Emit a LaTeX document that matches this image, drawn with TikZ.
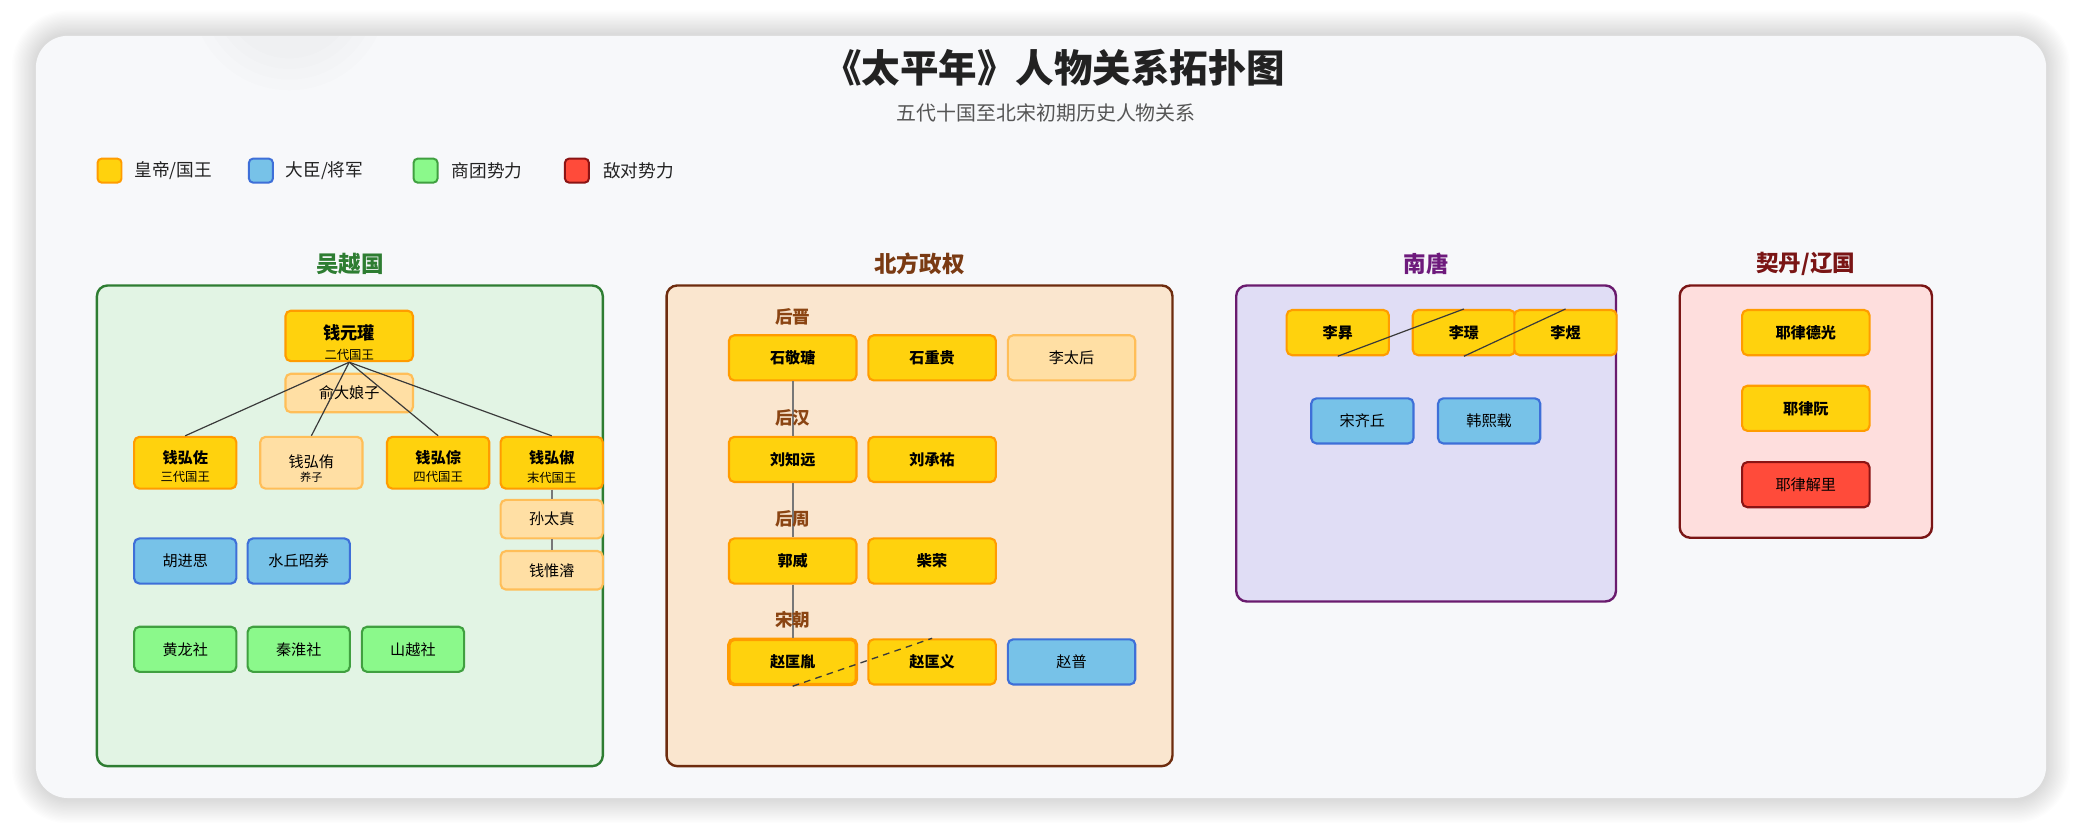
\documentclass[tikz,border=0pt]{standalone}
\usepackage{fontspec}
\setmainfont{Noto Sans CJK SC}
\definecolor{cardF}{HTML}{F7F8FA}
\definecolor{titleC}{HTML}{222222}
\definecolor{subC}{HTML}{555555}
\definecolor{goldF}{HTML}{FFD20D}
\definecolor{goldD}{HTML}{FF9C00}
\definecolor{lightF}{HTML}{FFDFA4}
\definecolor{lightD}{HTML}{FFBE58}
\definecolor{blueF}{HTML}{77C2E8}
\definecolor{blueD}{HTML}{3E6FD8}
\definecolor{greenF}{HTML}{8BF98B}
\definecolor{greenD}{HTML}{40A040}
\definecolor{redF}{HTML}{FF4B3A}
\definecolor{redD}{HTML}{8B1414}
\definecolor{wyF}{HTML}{E2F4E4}
\definecolor{wyD}{HTML}{2E7D32}
\definecolor{nfF}{HTML}{FAE6CF}
\definecolor{nfD}{HTML}{6E2C0E}
\definecolor{nfT}{HTML}{7A3A12}
\definecolor{dyT}{HTML}{8B4513}
\definecolor{ntF}{HTML}{E0DDF5}
\definecolor{ntD}{HTML}{6A1B6E}
\definecolor{ntT}{HTML}{6E1A7C}
\definecolor{qdF}{HTML}{FEDEDD}
\definecolor{qdD}{HTML}{7A1515}
\definecolor{edgeC}{HTML}{3A3A3A}
\definecolor{vlineC}{HTML}{777777}
\begin{document}
\begin{tikzpicture}[x=1pt,y=-1pt,
  person/.style={rounded corners=4pt, line width=1.6pt, inner sep=0pt, text=black,
    font=\fontsize{11.4}{12}\selectfont},
  gold/.style={person, fill=goldF, draw=goldD, font=\bfseries\fontsize{11.4}{12}\selectfont},
  light/.style={person, fill=lightF, draw=lightD},
  blue/.style={person, fill=blueF, draw=blueD},
  green/.style={person, fill=greenF, draw=greenD},
  red/.style={person, fill=redF, draw=redD},
  wsz/.style={minimum width=77pt, minimum height=39pt},
  wsm/.style={minimum width=77pt, minimum height=29pt},
  wmd/.style={minimum width=77pt, minimum height=34pt},
  nsz/.style={minimum width=96pt, minimum height=34pt},
  nmt/.style={inner sep=0pt, font=\bfseries\fontsize{11.4}{12}\selectfont},
  sbt/.style={inner sep=0pt, font=\fontsize{9.3}{10}\selectfont},
  grp/.style={rounded corners=8pt, line width=1.8pt},
  gtitle/.style={font=\bfseries\fontsize{17}{18}\selectfont},
  dyn/.style={font=\bfseries\fontsize{13.2}{14}\selectfont, text=dyT, inner sep=1pt},
  lgbox/.style={rounded corners=3pt, line width=1.5pt, minimum size=18pt, inner sep=0pt},
  lgtxt/.style={font=\fontsize{13.3}{14}\selectfont, text=titleC, anchor=west, inner sep=0pt},
  edge/.style={draw=edgeC, line width=0.9pt},
  vline/.style={draw=vlineC, line width=1.5pt},
  dline/.style={draw=edgeC, line width=1pt, dash pattern=on 5pt off 4pt}
]
\useasboundingbox (0,0) rectangle (1568,628);
\fill[white] (0,0) rectangle (1568,628);
% card shadow (soft, layered)
\foreach \i in {1,...,18}{
  \fill[black, opacity=0.009, rounded corners=24pt+\i pt]
    (27-\i, 26-\i) rectangle (1541+\i, 602+\i);
}
% card
\path[fill=cardF, rounded corners=24pt] (27,27) rectangle (1541,601);
\begin{scope}
  \clip[rounded corners=24pt] (27,27) rectangle (1541,601);
  \foreach \r in {50,58,66,74}{
    \fill[black, opacity=0.006] (218,-6) circle (\r);
  }
\end{scope}

% title
\node[font=\bfseries\fontsize{29}{30}\selectfont, text=titleC] (title) at (794,51) {《太平年》人物关系拓扑图};
\node[font=\fontsize{15}{16}\selectfont, text=subC] (subtitle) at (788,85) {五代十国至北宋初期历史人物关系};

% legend
\node[lgbox, fill=goldF, draw=goldD] (lg1) at (82.5,128.5) {};
\node[lgtxt] (lt1) at (101,128.5) {皇帝/国王};
\node[lgbox, fill=blueF, draw=blueD] (lg2) at (196.5,128.5) {};
\node[lgtxt] (lt2) at (215,128.5) {大臣/将军};
\node[lgbox, fill=greenF, draw=greenD] (lg3) at (320.5,128.5) {};
\node[lgtxt] (lt3) at (340,128.5) {商团势力};
\node[lgbox, fill=redF, draw=redD] (lg4) at (434.5,128.5) {};
\node[lgtxt] (lt4) at (454,128.5) {敌对势力};

% groups
\path[grp, fill=wyF, draw=wyD] (73,215) rectangle (454,577);
\node[gtitle, text=wyD] (gt1) at (263.5,199) {吴越国};
\path[grp, fill=nfF, draw=nfD] (502,215) rectangle (883,577);
\node[gtitle, text=nfT] (gt2) at (692.5,199) {北方政权};
\path[grp, fill=ntF, draw=ntD] (931,215) rectangle (1217,453);
\node[gtitle, text=ntT] (gt3) at (1074,199) {南唐};
\path[grp, fill=qdF, draw=qdD] (1265,215) rectangle (1455,405);
\node[gtitle, text=qdD] (gt4) at (1360,199) {契丹/辽国};

% ---- Wuyue ----
\node[gold, minimum width=96pt, minimum height=38pt] (qyg) at (263,253) {};
\node[nmt, font=\bfseries\fontsize{13}{14}\selectfont] (qygn) at (263,251) {钱元瓘};
\node[sbt] (qygs) at (263,267.5) {二代国王};
\node[light, minimum width=96pt, minimum height=29pt] (yu) at (263,296) {俞大娘子};

\node[gold, wsz] (hz) at (139.5,348.5) {};
\node[nmt] (hzn) at (139.5,344.5) {钱弘佐};
\node[sbt] (hzs) at (139.5,359.5) {三代国王};
\node[light, wsz] (hy) at (234.5,348.5) {};
\node[inner sep=0pt, font=\fontsize{11.4}{12}\selectfont] (hyn) at (234.5,348) {钱弘侑};
\node[inner sep=0pt, font=\fontsize{8.4}{9}\selectfont] (hys) at (234.5,359.5) {养子};
\node[gold, wsz] (hc) at (330,348.5) {};
\node[nmt] (hcn) at (330,344.5) {钱弘倧};
\node[sbt] (hcs) at (330,359.5) {四代国王};
\node[gold, wsz] (hs) at (415.5,348.5) {};
\node[nmt] (hsn) at (415.5,344.5) {钱弘俶};
\node[sbt] (hss) at (415.5,359.5) {末代国王};

\node[light, wsm] (stz) at (415.5,391) {孙太真};
\node[light, wsm] (wj) at (415.5,429.5) {钱惟濬};

\node[blue, wmd] (hjs) at (139.5,422.5) {胡进思};
\node[blue, wmd] (sq) at (225,422.5) {水丘昭券};

\node[green, wmd] (hl) at (139.5,489) {黄龙社};
\node[green, wmd] (qh) at (225,489) {秦淮社};
\node[green, wmd] (sy) at (311,489) {山越社};

% ---- North ----
\node[dyn] (d1) at (597,238.5) {后晋};
\node[gold, nsz] (sjt) at (597,269.5) {石敬瑭};
\node[gold, nsz] (szg) at (702,269.5) {石重贵};
\node[light, nsz] (lth) at (807,269.5) {李太后};
\node[gold, nsz] (lzy) at (597,346) {刘知远};
\node[gold, nsz] (lcy) at (702,346) {刘承祐};
\node[gold, nsz] (gw) at (597,422.5) {郭威};
\node[gold, nsz] (cr) at (702,422.5) {柴荣};
\node[gold, nsz, line width=2.6pt] (zky) at (597,498.5) {赵匡胤};
\node[gold, nsz] (zkyi) at (702,498.5) {赵匡义};
\node[blue, nsz] (zp) at (807,498.5) {赵普};

% ---- Southern Tang ----
\node[gold, wmd] (ls) at (1007.5,250.5) {李昪};
\node[gold, wmd] (lj) at (1102.5,250.5) {李璟};
\node[gold, wmd] (ly) at (1179,250.5) {李煜};
\node[blue, wmd] (sqq) at (1026,317) {宋齐丘};
\node[blue, wmd] (hxz) at (1121.5,317) {韩熙载};

% ---- Khitan ----
\node[gold, nsz] (ydg) at (1360,250.5) {耶律德光};
\node[gold, nsz] (yr) at (1360,307.5) {耶律阮};
\node[red, nsz] (yjl) at (1360,365) {耶律解里};

% ---- connectors ----
\draw[edge] (qyg.south) -- (hz.north);
\draw[edge] (qyg.south) -- (hy.north);
\draw[edge] (qyg.south) -- (hc.north);
\draw[edge] (qyg.south) -- (hs.north);
\draw[vline] (hs.south) -- (stz.north);
\draw[vline] (stz.south) -- (wj.north);

\draw[vline] (sjt.south) -- (lzy.north);
\draw[vline] (lzy.south) -- (gw.north);
\draw[vline] (gw.south) -- (zky.north);
\node[dyn] (d2) at (597,315) {后汉};
\node[dyn] (d3) at (597,391) {后周};
\node[dyn] (d4) at (597,467) {宋朝};
\draw[dline] (zky.south) -- (zkyi.north);

\draw[edge] (ls.south) -- (lj.north);
\draw[edge] (lj.south) -- (ly.north);
\end{tikzpicture}
\end{document}
